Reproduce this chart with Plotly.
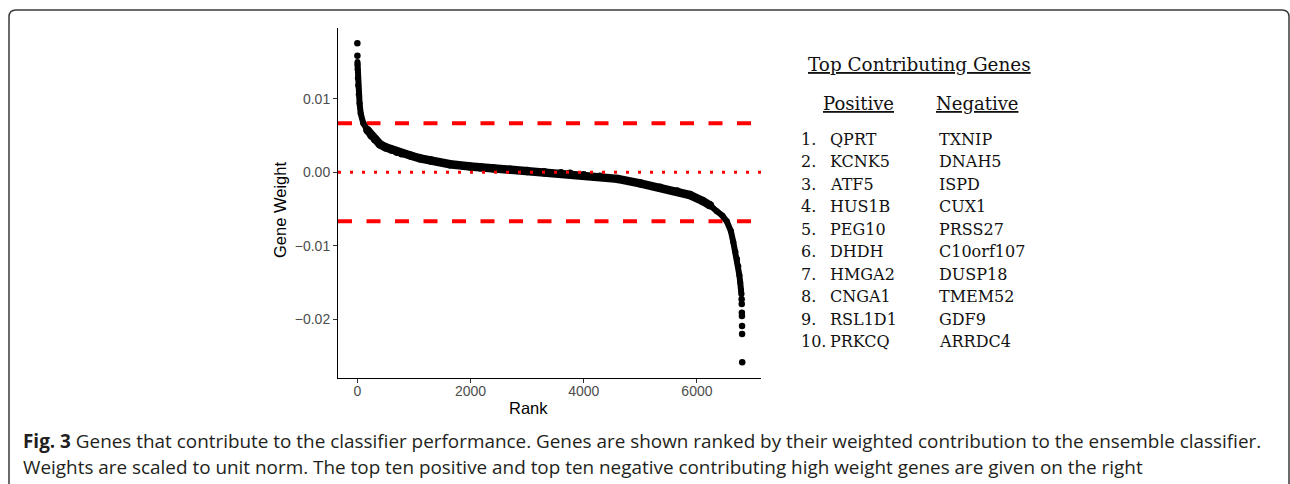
import plotly.graph_objects as go

# ---------------- data ----------------
curve_rank = [3, 4, 6, 10, 15, 25, 40, 60, 106, 177, 250, 313, 400, 500, 600, 700, 784,
              950, 1108, 1300, 1638, 2000, 2168, 2400, 2698, 3000, 3300, 3600, 3758,
              4000, 4288, 4600, 4995, 5350, 5650, 5878, 6100, 6231, 6350, 6450, 6527,
              6600, 6643, 6680, 6710, 6731, 6750, 6765, 6779, 6786]
curve_weight = [0.0150, 0.0146, 0.0140, 0.0128, 0.0118, 0.0106, 0.0094, 0.0080, 0.00667,
                0.00576, 0.0050, 0.0045, 0.0038, 0.0034, 0.0031, 0.0028, 0.0026,
                0.00225, 0.0019, 0.0016, 0.0011, 0.0008, 0.0007, 0.00055, 0.00035,
                0.00018, 0.00002, -0.00012, -0.0002, -0.0004, -0.0006, -0.0009,
                -0.0015, -0.0021, -0.0026, -0.0031, -0.0039, -0.0045, -0.0053, -0.0059,
                -0.00667, -0.0080, -0.0095, -0.0108, -0.0118, -0.0128, -0.0140, -0.0150,
                -0.0160, -0.0166]
isolated_rank = [1, 2, 6790, 6792, 6794, 6795, 6797, 6798, 6800]
isolated_weight = [0.01755, 0.01587, -0.01728, -0.01792, -0.0191, -0.01955, -0.0209,
                   -0.0220, -0.02585]
threshold = 0.00667

x_ticks = [0, 2000, 4000, 6000]
y_ticks = [0.01, 0.0, -0.01, -0.02]
y_ticktext = ["0.01", "0.00", "\u22120.01", "\u22120.02"]

pos_genes = ["QPRT", "KCNK5", "ATF5", "HUS1B", "PEG10", "DHDH", "HMGA2", "CNGA1",
             "RSL1D1", "PRKCQ"]
neg_genes = ["TXNIP", "DNAH5", "ISPD", "CUX1", "PRSS27", "C10orf107", "DUSP18",
             "TMEM52", "GDF9", "ARRDC4"]

caption1 = ("<b>Fig. 3</b> Genes that contribute to the classifier performance. Genes are "
            "shown ranked by their weighted contribution to the ensemble classifier.")
caption2 = ("Weights are scaled to unit norm. The top ten positive and top ten negative "
            "contributing high weight genes are given on the right")

# ---------------- layout helpers ----------------
W, H = 1290, 484
def px(x):
    return x / W
def py(y):
    return 1 - y / H

fig = go.Figure()
# steep head / flat middle / steep tail drawn with slightly different stroke widths
n = len(curve_rank)
segments = [(0, 12, 6), (9, 38, 8.5), (35, n, 6)]
for a, b, w in segments:
    fig.add_trace(go.Scatter(x=curve_rank[a:b], y=curve_weight[a:b], mode="lines+markers",
                             line=dict(color="black", width=w),
                             marker=dict(color="black", size=w, line=dict(width=0)),
                             hoverinfo="skip", showlegend=False))
fig.add_trace(go.Scatter(x=isolated_rank, y=isolated_weight, mode="markers",
                         marker=dict(color="black", size=6.5, line=dict(width=0)),
                         hoverinfo="skip", showlegend=False))

shapes = []
for t in (threshold, -threshold):
    shapes.append(dict(type="line", xref="x domain", yref="y", x0=0, x1=1, y0=t, y1=t,
                       line=dict(color="#FF0000", width=4, dash="14px,14.5px"),
                       layer="below"))
shapes.append(dict(type="line", xref="x domain", yref="y", x0=0, x1=1, y0=0, y1=0,
                   line=dict(color="#FF0000", width=3, dash="3px,9px"), layer="above"))

# rounded panel border
L, T, R, B, r = 9, 10, 1289, 495, 7
path = (f"M {px(L)},{py(B)} L {px(L)},{py(T + r)} Q {px(L)},{py(T)} {px(L + r)},{py(T)} "
        f"L {px(R - r)},{py(T)} Q {px(R)},{py(T)} {px(R)},{py(T + r)} L {px(R)},{py(B)}")
shapes.append(dict(type="path", xref="paper", yref="paper", path=path,
                   line=dict(color="#3a3a3a", width=1.5)))

ann = []
axfont = dict(family="Liberation Sans, Arial, sans-serif", size=16.5, color="black")
ann.append(dict(text="Rank", x=px(528.5), y=py(408), xref="paper", yref="paper",
                xanchor="center", yanchor="middle", showarrow=False, font=axfont))
ann.append(dict(text="Gene Weight", x=px(280), y=py(210), xref="paper", yref="paper",
                xanchor="center", yanchor="middle", showarrow=False, textangle=-90,
                font=axfont))

serif = "DejaVu Serif, serif"
ann.append(dict(text="<u>Top Contributing Genes</u>", x=px(919.5), y=py(64), xref="paper",
                yref="paper", xanchor="center", yanchor="middle", showarrow=False,
                font=dict(family=serif, size=18.4, color="#111")))
ann.append(dict(text="<u>Positive</u>", x=px(858.5), y=py(104), xref="paper",
                yref="paper", xanchor="center", yanchor="middle", showarrow=False,
                font=dict(family=serif, size=18, color="#111")))
ann.append(dict(text="<u>Negative</u>", x=px(977), y=py(104), xref="paper",
                yref="paper", xanchor="center", yanchor="middle", showarrow=False,
                font=dict(family=serif, size=18, color="#111")))
rowfont = dict(family=serif, size=16, color="#111")
for i, (pg, ng) in enumerate(zip(pos_genes, neg_genes)):
    yy = py(139.3 + 22.5 * i)
    ann.append(dict(text=f"{i + 1}.", x=px(799), y=yy, xref="paper", yref="paper",
                    xanchor="left", yanchor="middle", showarrow=False, font=rowfont))
    ann.append(dict(text=pg, x=px(828), y=yy, xref="paper", yref="paper",
                    xanchor="left", yanchor="middle", showarrow=False, font=rowfont))
    ann.append(dict(text=ng, x=px(937), y=yy, xref="paper", yref="paper",
                    xanchor="left", yanchor="middle", showarrow=False, font=rowfont))

capfont = dict(family="Open Sans, sans-serif", size=18.9, color="#231F20")
ann.append(dict(text=caption1, x=px(21), y=py(441), xref="paper", yref="paper",
                xanchor="left", yanchor="middle", showarrow=False, font=capfont))
ann.append(dict(text=caption2, x=px(21), y=py(467), xref="paper", yref="paper",
                xanchor="left", yanchor="middle", showarrow=False, font=capfont))

tickfont = dict(family="Liberation Sans, Arial, sans-serif", size=14, color="#4D4D4D")
fig.update_layout(
    width=W, height=H, margin=dict(l=0, r=0, t=0, b=0),
    paper_bgcolor="white", plot_bgcolor="white",
    shapes=shapes, annotations=ann,
    xaxis=dict(domain=[px(338), px(761)], range=[-341, 7132], showgrid=False,
               zeroline=False, showline=True, linecolor="black", linewidth=1,
               ticks="outside", ticklen=4, tickcolor="#333333", tickwidth=1,
               ticklabelstandoff=-4,
               tickvals=x_ticks, ticktext=[str(v) for v in x_ticks], tickfont=tickfont),
    yaxis=dict(domain=[py(378), py(28)], range=[-0.02799, 0.01963], showgrid=False,
               zeroline=False, showline=True, linecolor="black", linewidth=1,
               ticks="outside", ticklen=4, tickcolor="#333333", tickwidth=1,
               tickvals=y_ticks, ticktext=y_ticktext, tickfont=tickfont),
)

fig.write_html("out.html", config={"displayModeBar": False},
               post_script="document.body.style.margin='0';"
                           "document.body.style.overflow='hidden';")
